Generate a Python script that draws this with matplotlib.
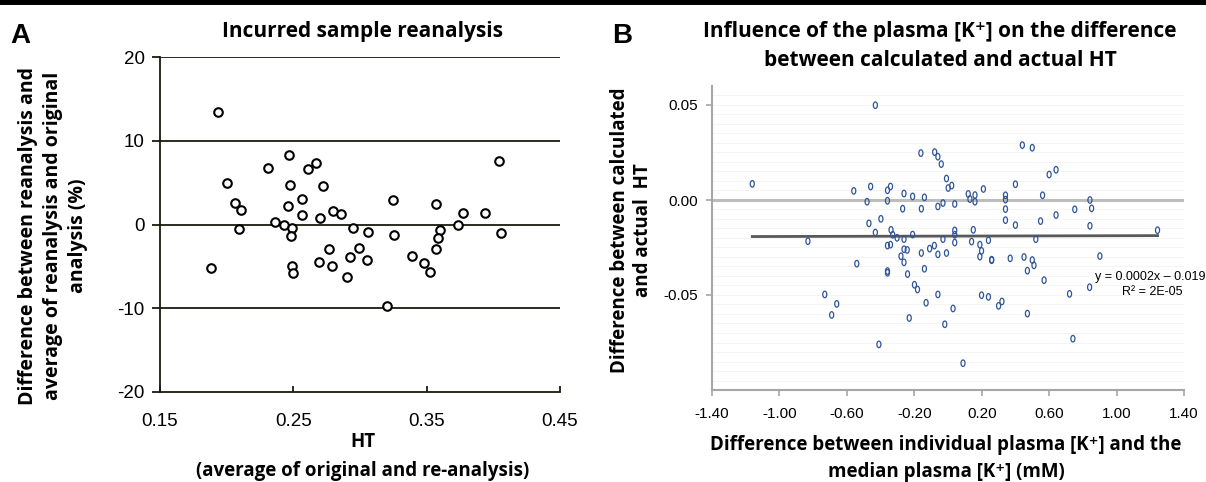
import numpy as np
import matplotlib
matplotlib.use("Agg")
import matplotlib.pyplot as plt
from matplotlib.path import Path
from matplotlib.lines import Line2D

# ---- Panel A data: incurred sample reanalysis ----
ht_avg = [0.1935, 0.188, 0.200, 0.2065, 0.211, 0.2095, 0.2308, 0.236, 0.243, 0.2468,
          0.2475, 0.246, 0.249, 0.248, 0.249, 0.250, 0.2563, 0.2563, 0.261, 0.2668,
          0.2723, 0.2698, 0.2768, 0.2695, 0.280, 0.2855, 0.279, 0.2905, 0.295, 0.299,
          0.2928, 0.306, 0.3053, 0.3203, 0.3245, 0.3253, 0.3388, 0.3483, 0.3523, 0.357,
          0.360, 0.3585, 0.357, 0.3738, 0.3775, 0.3935, 0.4045, 0.406]
pct_diff = [13.4, -5.2, 5.0, 2.6, 1.75, -0.5, 6.8, 0.24, -0.04, 8.3,
            4.7, 2.2, -0.4, -1.4, -4.9, -5.8, 3.0, 1.15, 6.6, 7.3,
            4.6, 0.8, -2.9, -4.5, 1.6, 1.3, -4.9, -6.3, -0.36, -2.8,
            -3.9, -0.84, -4.2, -9.7, 2.9, -1.3, -3.8, -4.6, -5.7, 2.4,
            -0.7, -1.6, -2.9, -0.04, 1.4, 1.4, 7.6, -1.0]
a_xticks = [0.15, 0.25, 0.35, 0.45]
a_yticks = [-20, -10, 0, 10, 20]

# ---- Panel B data: plasma [K+] vs HT difference ----
k_diff = [-1.161, -0.831, -0.731, -0.690, -0.660, -0.541, -0.559, -0.480, -0.459, -0.469,
          -0.431, -0.431, -0.410, -0.398, -0.359, -0.359, -0.341, -0.359, -0.341, -0.338,
          -0.328, -0.359, -0.359, -0.302, -0.279, -0.269, -0.261, -0.261, -0.261, -0.261,
          -0.242, -0.240, -0.230, -0.210, -0.210, -0.199, -0.181, -0.161, -0.158, -0.158,
          -0.140, -0.140, -0.130, -0.109, -0.081, -0.079, -0.060, -0.040, -0.060, -0.060,
          -0.060, -0.030, -0.030, -0.009, 0.001, 0.022, -0.009, -0.019, 0.030, 0.040,
          0.040, 0.040, 0.040, 0.089, 0.120, 0.130, 0.160, 0.160, 0.150, 0.140,
          0.189, 0.189, 0.199, 0.199, 0.210, 0.240, 0.240, 0.259, 0.259, 0.300,
          0.320, 0.341, 0.341, 0.341, 0.341, 0.369, 0.400, 0.400, 0.441, 0.451,
          0.471, 0.471, 0.500, 0.500, 0.510, 0.521, 0.549, 0.561, 0.570, 0.600,
          0.641, 0.641, 0.721, 0.741, 0.752, 0.842, 0.852, 0.842, 0.840, 0.901,
          1.243]
ht_diff = [0.0085, -0.0217, -0.0497, -0.0605, -0.0547, -0.0335, 0.0048, -0.0009, 0.0071, -0.0123,
           0.0499, -0.0171, -0.0760, -0.0099, 0.0051, -0.0004, 0.0071, -0.0240, -0.0235, -0.0157,
           -0.0183, -0.0374, -0.0383, -0.0199, -0.0296, -0.0046, 0.0034, -0.0206, -0.0259, -0.0328,
           -0.0263, -0.0390, -0.0621, 0.0019, -0.0182, -0.0446, -0.0471, 0.0247, -0.0046, -0.0279,
           0.0014, -0.0362, -0.0541, -0.0256, -0.0240, 0.0252, 0.0228, 0.0189, -0.0034, -0.0286,
           -0.0497, -0.0016, -0.0206, 0.0113, 0.0063, 0.0076, -0.0279, -0.0654, -0.0571, -0.0021,
           -0.0160, -0.0183, -0.0224, -0.0859, 0.0032, 0.0005, 0.0026, -0.0009, -0.0157, -0.0219,
           -0.0235, -0.0298, -0.0268, -0.0501, 0.0058, -0.0212, -0.0510, -0.0314, -0.0317, -0.0557,
           -0.0534, 0.0025, 0.0002, -0.0048, -0.0106, -0.0307, 0.0083, -0.0132, 0.0289, -0.0300,
           -0.0372, -0.0598, 0.0275, -0.0316, -0.0344, -0.0206, -0.0111, 0.0025, -0.0422, 0.0134,
           0.0159, -0.0079, -0.0494, -0.0730, -0.0049, 0.0000, -0.0044, -0.0136, -0.0459, -0.0295,
           -0.0159]
b_xticks = [-1.40, -1.00, -0.60, -0.20, 0.20, 0.60, 1.00, 1.40]
b_yticks = [-0.05, 0.00, 0.05]
trend_slope = 0.0002
trend_icept = -0.019

label_font = ["Open Sans", "DejaVu Sans"]
tick_font = ["Liberation Sans Narrow", "Liberation Sans", "DejaVu Sans"]

fig = plt.figure(figsize=(12.06, 4.82), dpi=100)

# top rule
fig.add_artist(Line2D([0, 1], [0.997, 0.997], color="black", lw=5, transform=fig.transFigure))

# ---------------- Panel A ----------------
axA = fig.add_axes([160 / 1206, 1 - 392 / 482, 400 / 1206, 335 / 482])
for yv in a_yticks[1:]:
    axA.axhline(yv, color="#1a1a10", lw=1.3, zorder=1)
axA.scatter(ht_avg, pct_diff, s=38, facecolors="white", edgecolors="black",
            linewidths=1.5, zorder=3)
axA.set_xlim(0.15, 0.45)
axA.set_ylim(-20, 20)
axA.set_xticks(a_xticks)
axA.set_xticklabels([f"{v:.2f}" for v in a_xticks])
axA.set_yticks(a_yticks)
axA.set_yticklabels([str(v) for v in a_yticks])
for s in ["top", "right"]:
    axA.spines[s].set_visible(False)
for s in ["left", "bottom"]:
    axA.spines[s].set_color("#1a1a10")
    axA.spines[s].set_linewidth(1.3)
axA.tick_params(axis="y", direction="out", length=6, width=1.3, color="#1a1a10", pad=5)
axA.tick_params(axis="x", direction="in", length=4, width=1.3, color="#1a1a10", pad=15)
for lab in axA.get_xticklabels() + axA.get_yticklabels():
    lab.set_family(tick_font)
    lab.set_fontsize(13.5)

fig.text(363 / 1206, 1 - 31 / 482, "Incurred sample reanalysis", ha="center", va="center",
         fontsize=15, fontweight="bold", family=label_font)
fig.text(10 / 1206, 1 - 36 / 482, "A", ha="left", va="center", fontsize=20,
         fontweight="bold", family=["Liberation Sans", "DejaVu Sans"])
fig.text(363 / 1206, 1 - 442 / 482, "HT", ha="center", va="center",
         fontsize=13.5, fontweight="bold", family=label_font)
fig.text(363 / 1206, 1 - 471 / 482, "(average of original and re-analysis)", ha="center",
         va="center", fontsize=13.5, fontweight="bold", family=label_font)
fig.text(53 / 1206, 1 - 236 / 482,
         "Difference between reanalysis and\naverage of reanalysis and original\nanalysis (%)",
         ha="center", va="center", rotation=90, fontsize=14, fontweight="bold",
         family=label_font, linespacing=1.3)

# ---------------- Panel B ----------------
axB = fig.add_axes([712 / 1206, 1 - 390 / 482, 472 / 1206, 304 / 482])
for yv in np.arange(-0.095, 0.06, 0.005):
    axB.axhline(yv, color="#f2f2f2", lw=0.6, zorder=0)
axB.axhline(0, color="#bdbdbd", lw=2.2, zorder=1)
tx = np.array([min(k_diff), max(k_diff)])
axB.plot(tx, trend_slope * tx + trend_icept, color="#595959", lw=2, zorder=2)

# vertically stretched open ellipse marker
circ = Path.unit_circle()
ell = Path(circ.vertices * np.array([0.62, 1.0]), circ.codes)
axB.scatter(k_diff, ht_diff, marker=ell, s=22, facecolors="none",
            edgecolors="#2f5597", linewidths=0.9, zorder=3)
axB.set_xlim(-1.4, 1.4)
axB.set_ylim(-0.10, 0.06)
axB.set_xticks(b_xticks)
axB.set_xticklabels([f"{v:.2f}" for v in b_xticks])
axB.set_yticks(b_yticks)
axB.set_yticklabels([f"{v:.2f}" for v in b_yticks])
for s in ["top", "right"]:
    axB.spines[s].set_visible(False)
for s in ["left", "bottom"]:
    axB.spines[s].set_color("#a6a6a6")
    axB.spines[s].set_linewidth(1.5)
axB.tick_params(direction="out", length=4, width=1.2, color="#a6a6a6", pad=6)
axB.tick_params(axis="x", pad=8)
for lab in axB.get_xticklabels() + axB.get_yticklabels():
    lab.set_family(tick_font)
    lab.set_fontsize(11)

axB.text(1.20, -0.0405, "y = 0.0002x \u2013 0.019", ha="center", va="center",
         fontsize=9, family=tick_font, clip_on=False)
axB.text(1.21, -0.0484, "R\u00b2 = 2E-05", ha="center", va="center",
         fontsize=9, family=tick_font, clip_on=False)

fig.text(940 / 1206, 1 - 31 / 482, "Influence of the plasma [K\u207a] on the difference",
         ha="center", va="center", fontsize=15, fontweight="bold", family=label_font)
fig.text(940 / 1206, 1 - 60 / 482, "between calculated and actual HT",
         ha="center", va="center", fontsize=15, fontweight="bold", family=label_font)
fig.text(612 / 1206, 1 - 36 / 482, "B", ha="left", va="center", fontsize=20,
         fontweight="bold", family=["Liberation Sans", "DejaVu Sans"])
fig.text(946 / 1206, 1 - 445 / 482, "Difference between individual plasma [K\u207a] and the",
         ha="center", va="center", fontsize=13.5, fontweight="bold", family=label_font)
fig.text(946 / 1206, 1 - 472 / 482, "median plasma [K\u207a] (mM)",
         ha="center", va="center", fontsize=13.5, fontweight="bold", family=label_font)
fig.text(632 / 1206, 1 - 230 / 482, "Difference between calculated\nand actual  HT",
         ha="center", va="center", rotation=90, fontsize=13.5, fontweight="bold",
         family=label_font, linespacing=1.2)

fig.savefig("out.png", dpi=100)
